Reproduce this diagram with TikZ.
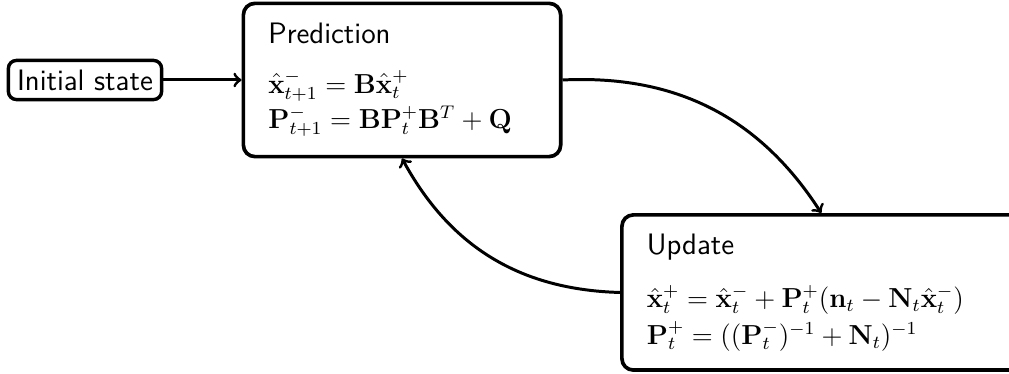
\documentclass[12pt,tikz,border=0pt]{standalone}
\usepackage{tikz}
\usetikzlibrary{positioning}
\setlength{\parindent}{0pt}
\relpenalty=10000
\binoppenalty=10000
\tikzset{
  stage box/.style={draw=black,line width=1.6pt,rounded corners=5pt,align=left,
    inner xsep=0.383cm,inner ysep=0pt,font=\sffamily\fontsize{12}{15.6}\selectfont},
  start box/.style={draw=black,line width=1.5pt,rounded corners=3.5pt,inner sep=0pt,
    minimum width=2.35cm,minimum height=0.6cm,font=\sffamily\fontsize{12.9}{15.5}\selectfont},
  flow/.style={->,line width=1.3pt}
}
\newcommand{\StageTitle}{\fontsize{12.9}{15.5}\selectfont}

\begin{document}
\begin{tikzpicture}[x=1cm,y=1cm]
  \path[use as bounding box] (0,0) rectangle (15.475,5.736);

  \node[stage box,text width=4.1cm,minimum height=2.35cm] (pred) at (6.166,4.509)
    {{\StageTitle Prediction}\\[5.9pt]
     $\hat{\mathbf{x}}^-_{t+1} = \mathbf{B}\hat{\mathbf{x}}^+_t$\\
     $\mathbf{P}^-_{t+1} = \mathbf{B}\mathbf{P}^+_t\mathbf{B}^T + \mathbf{Q}$};
  \node[start box,left=1.2cm of pred] (init) {Initial state};
  \node[stage box,text width=5.35cm,minimum height=2.38cm,anchor=west] (upd) at (9.51,1.25)
    {{\StageTitle Update}\\[7.7pt]
     $\hat{\mathbf{x}}^+_t = \hat{\mathbf{x}}^-_t + \mathbf{P}^+_t(\mathbf{n}_t - \mathbf{N}_t\hat{\mathbf{x}}^-_t)$\\[0.4pt]
     $\mathbf{P}^+_t = ((\mathbf{P}^-_t)^{-1} + \mathbf{N}_t)^{-1}$};

  \draw[flow] (init) -- (pred);
  \draw[flow] (pred.east) to[bend left] (upd.north);
  \draw[flow] (upd.west) to[bend left] (pred.south);
\end{tikzpicture}
\end{document}
